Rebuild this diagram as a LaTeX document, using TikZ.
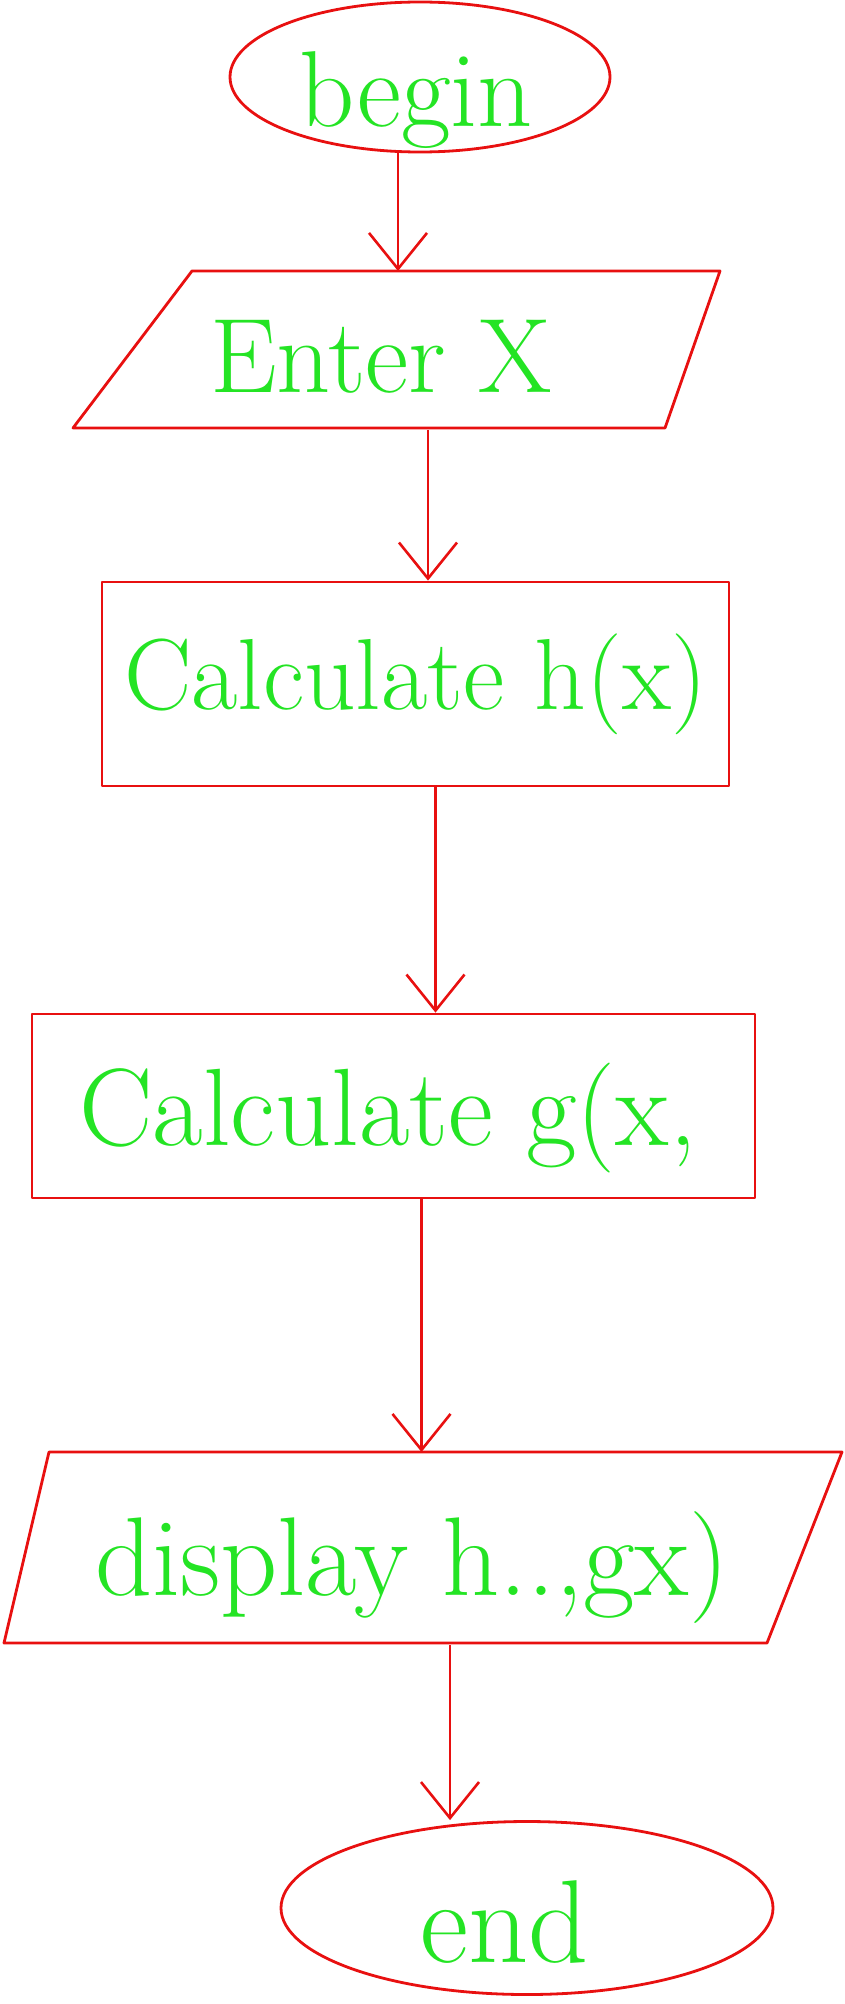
\documentclass[tikz,border=0pt]{standalone}
\usetikzlibrary{arrows.meta}
\usetikzlibrary{shapes.geometric}
\definecolor{penRed}{RGB}{232,16,16}
\definecolor{penGreen}{RGB}{36,228,36}
\tikzset{
  pen/.style={draw=penRed, line width=2.8pt, line join=round},
  txt/.style={text=penGreen, inner sep=0pt, font=\fontsize{#1}{#1}\selectfont},
  txt/.default=100,
  arr/.style={draw=penRed, line width=2.6pt, -{Straight Barb[length=36pt,width=58pt,line width=2.6pt]}},
}

\begin{document}
\begin{tikzpicture}[x=1pt,y=1pt,yscale=-1,xscale=1]
\useasboundingbox (0,0) rectangle (844,2004);

%Shape: Ellipse [begin]
\node [pen, ellipse, minimum width=380, minimum height=150] (begin) at (420,77) {};
% Text Node
\node [txt=108] (begintxt) at (416,100) {begin};

%Shape: Parallelogram [enter]
\draw [pen] (192,271) -- (720,271) -- (665,428) -- (73,428) -- cycle ;
\coordinate (enter-n) at (398,271);
\coordinate (enter-s) at (428,430);
% Text Node
\node [txt=106] (enter) at (381,357) {Enter X};

%Shape: Rectangle [calch]
\node [pen, txt=101, minimum width=627, minimum height=204] (calch) at (415.5,684) {Calculate h(x)};

%Shape: Rectangle [calcg]
\node [pen, minimum width=723, minimum height=184] (calcg) at (393.5,1106) {};
% Text Node
\node [txt=110] (calcgtxt) at (388,1118) {Calculate g(x,};

%Shape: Parallelogram [disp]
\draw [pen] (49,1452) -- (842,1452) -- (767,1643) -- (4,1643) -- cycle ;
\coordinate (disp-n) at (422,1452);
\coordinate (disp-s) at (450,1645);
% Text Node
\node [txt=112] (disp) at (412,1568) {display h..,gx)};

%Shape: Ellipse [end]
\node [pen, ellipse, minimum width=492, minimum height=173] (end) at (527,1908) {};
% Text Node
\node [txt=118] (endtxt) at (505,1922) {end};

%Straight Lines
\draw [arr] (begin.south -| enter-n) -- (enter-n) ;
\draw [arr] (enter-s) -- (enter-s |- calch.north) ;
\draw [arr] ([xshift=20]calch.south) -- ([xshift=20]calch.south |- calcg.north) ;
\draw [arr] ([xshift=28]calcg.south) -- ([xshift=28]calcg.south |- disp-n) ;
\draw [arr] (disp-s) -- (disp-s |- end.north) ;

\end{tikzpicture}
\end{document}
